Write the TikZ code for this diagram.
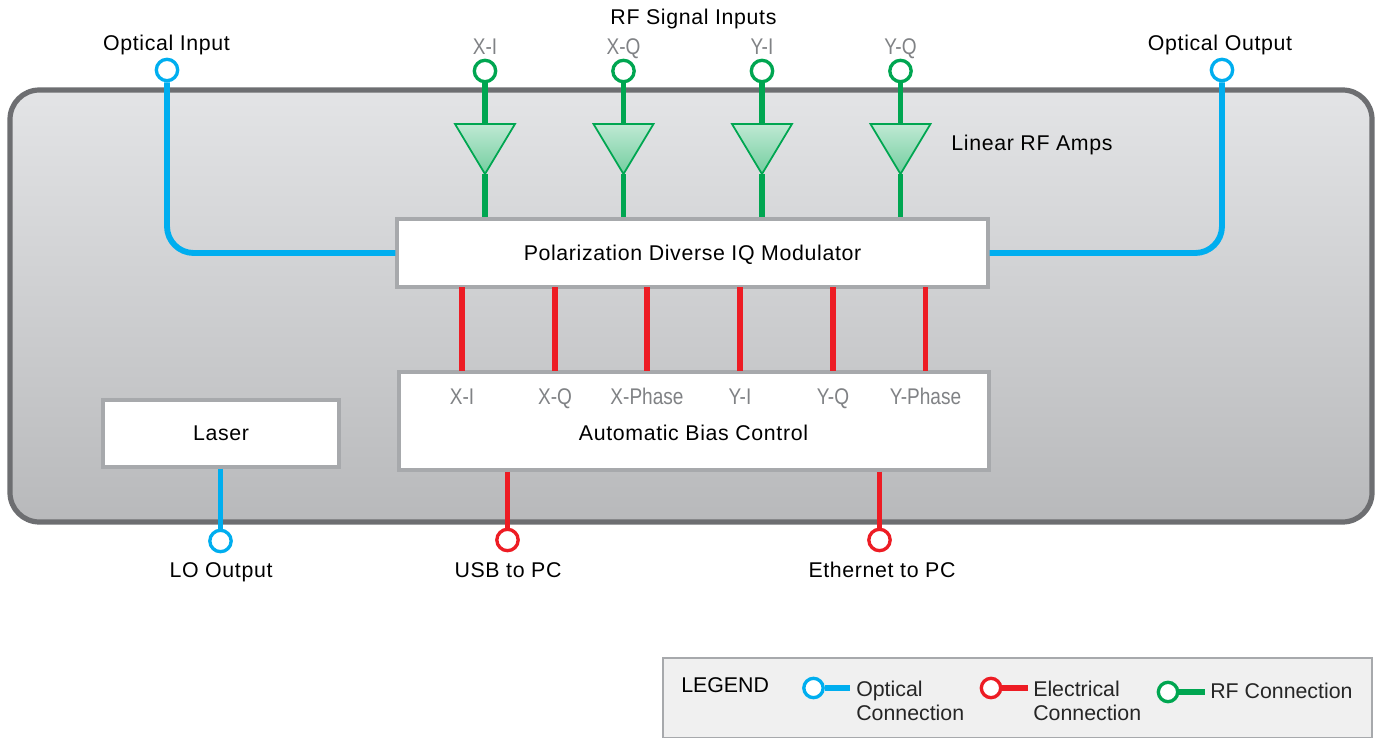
\documentclass[tikz,border=0pt]{standalone}
\usepackage{fontspec}
\setmainfont[LetterSpace=3]{Liberation Sans}
\newfontfamily\narrowf[FakeStretch=0.84]{Liberation Sans}
\newfontfamily\legf{Liberation Sans}
\usetikzlibrary{calc}
\definecolor{optc}{HTML}{00AEEF}
\definecolor{elec}{HTML}{ED1C24}
\definecolor{rfc}{HTML}{00A651}
\definecolor{frame}{HTML}{6D6E71}
\definecolor{boxb}{HTML}{A7A9AC}
\definecolor{greyt}{HTML}{808285}
\definecolor{enctop}{HTML}{E3E4E6}
\definecolor{encbot}{HTML}{B8B9BB}
\tikzset{
  x=0.75pt,y=-0.75pt,
  port/.style={circle,draw=#1,fill=white,line width=2.5pt,minimum size=16pt,inner sep=0pt},
  link/.style={draw=#1,line width=4.4pt},
  block/.style={draw=boxb,fill=white,line width=2.4pt,inner sep=0pt,font=\fontsize{16}{19}\selectfont},
  lab/.style={font=\fontsize{16}{19}\selectfont,text=black,inner sep=0pt,text height=13pt,text depth=3pt},
  tag/.style={font=\narrowf\fontsize{17}{20}\selectfont,text=greyt,inner sep=0pt,text height=13pt,text depth=3pt},
  leg/.style={font=\legf\fontsize{16}{19}\selectfont,text=black!85,inner sep=0pt,anchor=west,text height=13pt,text depth=3pt},
  amp/.style={draw=rfc,line width=1.3pt,top color=rfc!25!white,bottom color=rfc!55!white,shading angle=0},
}
\newcommand{\ampblock}[2]{% name, x
  \coordinate (#1top) at (#2,124);
  \coordinate (#1tip) at (#2,174);
  \path[amp] (#2-30,124) -- (#2+30,124) -- (#2,174) -- cycle;
}
\begin{document}
\begin{tikzpicture}
\useasboundingbox (0,0) rectangle (1382,738);
% enclosure
\node (encl) [draw=frame,line width=3.9pt,rounded corners=22pt,top color=enctop,bottom color=encbot,
  minimum width=1362*0.75pt,minimum height=432*0.75pt,inner sep=0pt] at (691,306) {};
% blocks
\node (mod) [block,minimum width=591*0.75pt,minimum height=68*0.75pt] at (692.5,253) {};
\node (modlab) [lab] at (692.5,254) {Polarization Diverse IQ Modulator};
\node (abc) [block,minimum width=590*0.75pt,minimum height=98*0.75pt] at (694,421) {};
\node (abclab) [lab] at (693.5,434) {Automatic Bias Control};
\node (laser) [block,minimum width=236*0.75pt,minimum height=67*0.75pt] at (221,433.5) {};
\node (laserlab) [lab] at (221,434) {Laser};
% ports
\node (oin) [port=optc] at (167,70) {};
\node (oout) [port=optc] at (1222,70) {};
\node (lo) [port=optc] at (220.5,541) {};
\node (usb) [port=elec] at (507.5,540) {};
\node (eth) [port=elec] at (879.5,540) {};
\node (rxi) [port=rfc] at (485,71) {};
\node (rxq) [port=rfc] at (623.5,71) {};
\node (ryi) [port=rfc] at (762,71) {};
\node (ryq) [port=rfc] at (900.5,71) {};
% amps
\ampblock{axi}{485}
\ampblock{axq}{623.5}
\ampblock{ayi}{762}
\ampblock{ayq}{900.5}
% rf connectors
\foreach \a/\b in {rxi/axi,rxq/axq,ryi/ayi,ryq/ayq}{
  \draw[link=rfc] (\a) -- (\b top);
  \draw[link=rfc] (\b tip) -- (\b tip |- mod.north);
}
% optical connectors
\draw[link=optc,rounded corners=20pt] (oin) -- (oin |- mod.west) -- (mod.west);
\draw[link=optc,rounded corners=20pt] (mod.east) -- (oout |- mod.east) -- (oout);
\draw[link=optc] (lo |- laser.south) -- (lo);
% electrical connectors
\foreach \n/\xx/\t in {bxi/462/X-I,bxq/555/X-Q,bxp/647/X-Phase,byi/740/Y-I,byq/833/Y-Q,byp/925.5/Y-Phase}{
  \node (\n) [tag] at (\xx,398) {\t};
  \draw[link=elec] (\xx,287) -- (\xx,371);
}
\draw[link=elec] (usb |- abc.south) -- (usb);
\draw[link=elec] (eth |- abc.south) -- (eth);
% labels
\node (tin) [lab] at (166.5,44) {Optical Input};
\node (tout) [lab] at (1220,44) {Optical Output};
\node (trf) [lab] at (693.5,18) {RF Signal Inputs};
\node (tamp) [lab] at (1032,144) {Linear RF Amps};
\node (tlo) [lab] at (221,571) {LO Output};
\node (tusb) [lab] at (508,571) {USB to PC};
\node (teth) [lab] at (882,571) {Ethernet to PC};
\node (txi) [tag] at (485,48) {X-I};
\node (txq) [tag] at (623.5,48) {X-Q};
\node (tyi) [tag] at (762,48) {Y-I};
\node (tyq) [tag] at (900.5,48) {Y-Q};
% legend
\node (legbox) [draw=boxb,fill=black!6,line width=1.5pt,minimum width=709*0.75pt,minimum height=80*0.75pt,inner sep=0pt] at (1017.5,698) {};
\node (legt) [leg,text=black] at (681,686) {LEGEND};
\coordinate (e1) at (850,688);
\coordinate (e2) at (1028,688);
\coordinate (e3) at (1205,692);
\node (l1) [port=optc,minimum size=14.5pt] at (813.5,688) {};
\node (l2) [port=elec,minimum size=14.5pt] at (991,688) {};
\node (l3) [port=rfc,minimum size=14.5pt] at (1168,692) {};
\draw[link=optc] (l1) -- (e1);
\draw[link=elec] (l2) -- (e2);
\draw[link=rfc] (l3) -- (e3);
\node (ll1a) [leg] at (856,690) {Optical};
\node (ll1b) [leg] at (856,714) {Connection};
\node (ll2a) [leg] at (1033,690) {Electrical};
\node (ll2b) [leg] at (1033,714) {Connection};
\node (ll3) [leg] at (1210,692) {RF Connection};
\end{tikzpicture}
\end{document}
